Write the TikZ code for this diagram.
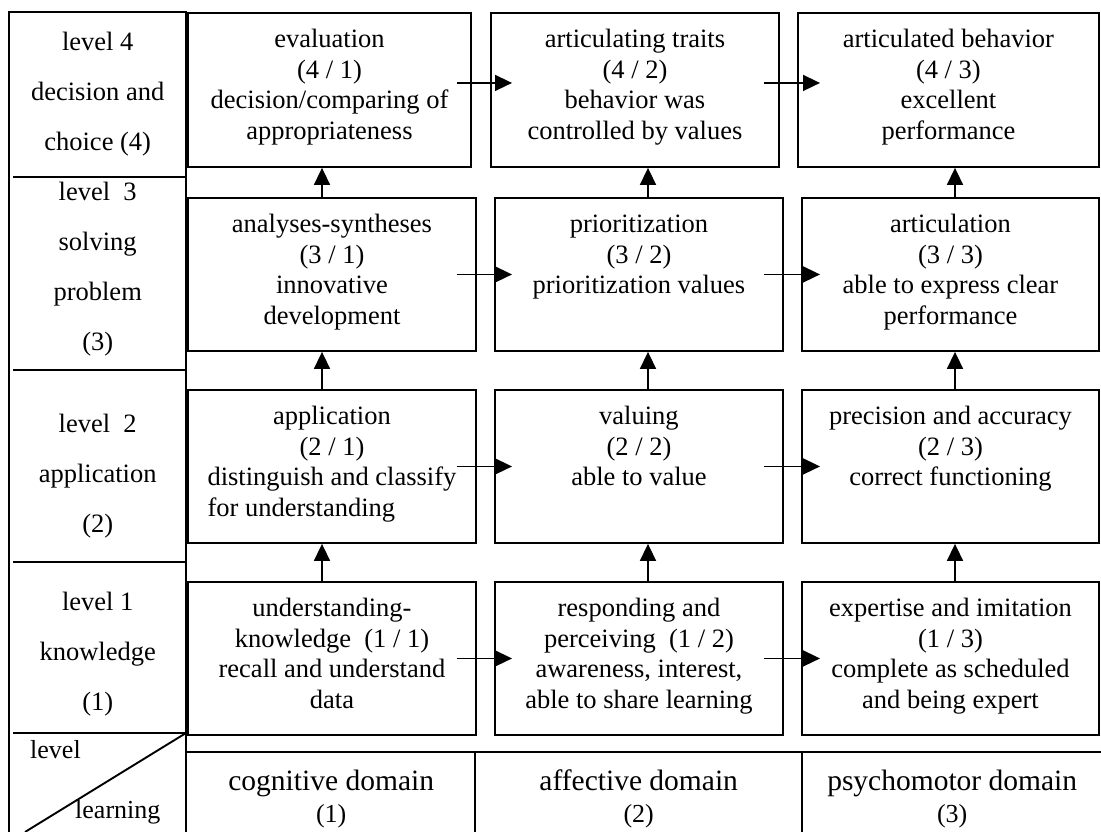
\documentclass[tikz,border=0pt]{standalone}
\usepackage{fontspec}
\setmainfont{Liberation Serif}
\usepackage{calc}
\usetikzlibrary{arrows.meta,calc}
\newcommand\cellbody[3]{\parbox[t][#2][t]{#1}{\centering\fontsize{26.5}{30.5}\selectfont\rule{0pt}{35pt}#3}}
\newcommand\levelbody[2]{\parbox[t]{177pt}{\centering\fontsize{26.5}{50}\selectfont\rule{0pt}{#1}#2}}
\newcommand\domainbody[3]{\parbox[t]{#1}{\centering\fontsize{29.5}{32}\selectfont\rule{0pt}{38pt}#2\\{\fontsize{26}{32}\selectfont #3}}}
\begin{document}
\begin{tikzpicture}[x=1pt,y=-1pt,
  cell/.style={draw, line width=1.9pt, inner sep=0pt, anchor=north west},
  plain/.style={inner sep=0pt, anchor=north west},
  rule/.style={line width=1.9pt},
  arr/.style={line width=1.6pt, -{Triangle[length=17pt,width=16pt]}}]
\useasboundingbox (0,0) rectangle (1101,832);
% left column
\draw[rule] (9,12) rectangle (186,845);
\draw[rule] (13,177) -- (186,177);
\draw[rule] (13,370) -- (186,370);
\draw[rule] (13,562) -- (186,562);
\draw[rule] (13,733) -- (186,733);
\coordinate (dgA) at (186,733);
\coordinate (dgB) at (25,832);
\draw[rule] (dgA) -- (dgB);
\node[plain] (L4) at (9,12) {\levelbody{38pt}{level 4\\decision and\\choice (4)}};
\node[plain] (L3) at (9,177) {\levelbody{23pt}{level\ \ 3\\solving\\problem\\(3)}};
\node[plain] (L2) at (9,370) {\levelbody{62pt}{level\ \ 2\\application\\(2)}};
\node[plain] (L1) at (9,562) {\levelbody{48pt}{level 1\\knowledge\\(1)}};
\node[anchor=base west, inner sep=0pt, font=\fontsize{26}{30}\selectfont] (lvl) at (30,758) {level};
\node[anchor=base west, inner sep=0pt, font=\fontsize{26}{30}\selectfont] (lrn) at (75,818) {learning};
% row 4
\node[cell] (b41) at (187,12) {\cellbody{283pt}{154pt}{evaluation\\(4 / 1)\\decision/comparing of\\appropriateness}};
\node[cell] (b42) at (490,12) {\cellbody{288pt}{154pt}{articulating traits\\(4 / 2)\\behavior was\\controlled by values}};
\node[cell] (b43) at (797,12) {\cellbody{301pt}{154pt}{articulated behavior\\(4 / 3)\\excellent\\performance}};
% row 3
\node[cell] (b31) at (187,197) {\cellbody{288pt}{153pt}{analyses-syntheses\\(3 / 1)\\innovative\\development}};
\node[cell] (b32) at (494,197) {\cellbody{288pt}{153pt}{prioritization\\(3 / 2)\\prioritization values}};
\node[cell] (b33) at (801,197) {\cellbody{297pt}{153pt}{articulation\\(3 / 3)\\able to express clear\\performance}};
% row 2
\node[cell] (b21) at (187,389) {\cellbody{288pt}{153pt}{application\\(2 / 1)\\distinguish and classify\\\makebox[\widthof{distinguish and classify}][l]{for understanding}}};
\node[cell] (b22) at (494,389) {\cellbody{288pt}{153pt}{valuing\\(2 / 2)\\able to value}};
\node[cell] (b23) at (801,389) {\cellbody{297pt}{153pt}{precision and accuracy\\(2 / 3)\\correct functioning}};
% row 1
\node[cell] (b11) at (187,581) {\cellbody{288pt}{153pt}{understanding-\\knowledge\ \ (1 / 1)\\recall and understand\\data}};
\node[cell] (b12) at (494,581) {\cellbody{288pt}{153pt}{responding and\\perceiving\ \ (1 / 2)\\awareness, interest,\\able to share learning}};
\node[cell] (b13) at (801,581) {\cellbody{297pt}{153pt}{expertise and imitation\\(1 / 3)\\complete as scheduled\\and being expert}};
% domain row
\draw[rule] (187,752) -- (1105,752);
\draw[rule] (475,752) -- (475,845);
\draw[rule] (802,752) -- (802,845);
\node[plain] (d1) at (187,752) {\domainbody{288pt}{cognitive domain}{(1)}};
\node[plain] (d2) at (475,752) {\domainbody{327pt}{affective domain}{(2)}};
\node[plain] (d3) at (802,752) {\domainbody{300pt}{psychomotor domain}{(3)}};
% vertical arrows
\coordinate (x1) at (322,0);
\coordinate (x2) at (648,0);
\coordinate (x3) at (955,0);
\draw[arr] (b11.north -| x1) -- (b21.south -| x1);
\draw[arr] (b21.north -| x1) -- (b31.south -| x1);
\draw[arr] (b31.north -| x1) -- (b41.south -| x1);
\draw[arr] (b12.north -| x2) -- (b22.south -| x2);
\draw[arr] (b22.north -| x2) -- (b32.south -| x2);
\draw[arr] (b32.north -| x2) -- (b42.south -| x2);
\draw[arr] (b13.north -| x3) -- (b23.south -| x3);
\draw[arr] (b23.north -| x3) -- (b33.south -| x3);
\draw[arr] (b33.north -| x3) -- (b43.south -| x3);
% horizontal arrows
\draw[arr] ($(b41.east)+(-15,-7)$) -- ($(b42.west)+(22,-7)$);
\draw[arr] ($(b42.east)+(-16,-7)$) -- ($(b43.west)+(23,-7)$);
\draw[arr] ($(b31.east)+(-20,0)$) -- ($(b32.west)+(18,0)$);
\draw[arr] ($(b32.east)+(-20,0)$) -- ($(b33.west)+(19,0)$);
\draw[arr] ($(b21.east)+(-20,0)$) -- ($(b22.west)+(18,0)$);
\draw[arr] ($(b22.east)+(-20,0)$) -- ($(b23.west)+(19,0)$);
\draw[arr] ($(b11.east)+(-20,0)$) -- ($(b12.west)+(18,0)$);
\draw[arr] ($(b12.east)+(-20,0)$) -- ($(b13.west)+(19,0)$);
\end{tikzpicture}
\end{document}
